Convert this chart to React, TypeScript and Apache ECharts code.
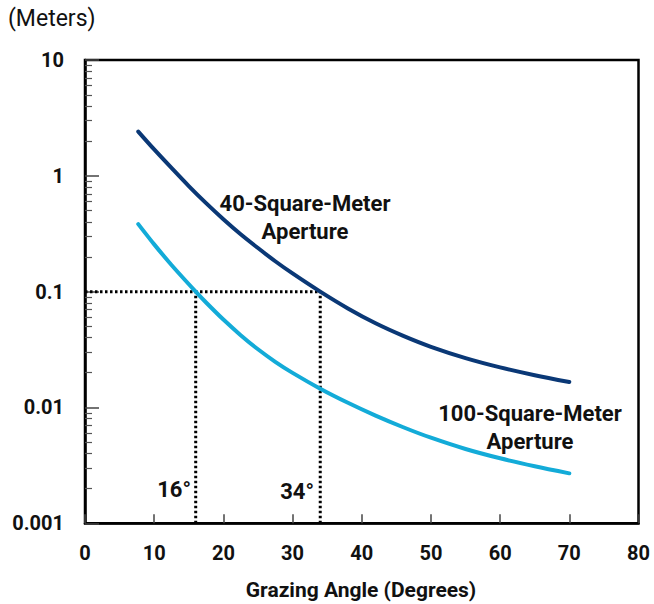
import React, { useEffect, useRef } from "react";
import * as echarts from "echarts";

// Grazing angle (degrees) vs. value (meters)
const aperture40: [number, number][] = [
  [7.7, 2.41], [10, 1.69], [12.5, 1.17], [15, 0.816], [17.5, 0.581], [20, 0.422],
  [22.5, 0.313], [25, 0.238], [27.5, 0.183], [30, 0.1436], [34, 0.1], [38, 0.0716],
  [42, 0.0533], [46, 0.0415], [50, 0.0334], [55, 0.0267], [60, 0.0222], [65, 0.019],
  [70, 0.0166],
];
const aperture100: [number, number][] = [
  [7.7, 0.383], [10, 0.256], [12.5, 0.17], [16, 0.1], [17.5, 0.0806], [20, 0.0574],
  [22.5, 0.0421], [25, 0.0318], [27.5, 0.0248], [30, 0.0199], [34, 0.01453], [38, 0.01098],
  [42, 0.00851], [46, 0.00675], [50, 0.00548], [55, 0.00438], [60, 0.00364], [65, 0.00311],
  [70, 0.0027],
];
const refValue = 0.1;
const refAngles = [16, 34];
const yTicks = [0.001, 0.01, 0.1, 1, 10];
const xMin = 0, xMax = 80, xStep = 10;
const labels40 = "40-Square-Meter\nAperture";
const labels100 = "100-Square-Meter\nAperture";
const yUnit = "(Meters)";
const xName = "Grazing Angle (Degrees)";

const FONT = "Roboto, 'Noto Sans', sans-serif";

export default function App() {
  const ref = useRef<HTMLDivElement>(null);
  useEffect(() => {
    if (!ref.current) return;
    const chart = echarts.init(ref.current, undefined, { renderer: "svg" });
    const minorTicks: number[] = [];
    for (let e = -3; e < 1; e++) {
      for (let k = 2; k <= 9; k++) minorTicks.push(Math.log10(k) + e);
    }
    const dotted = {
      color: "#000",
      width: 3,
      type: [2.5, 2.5] as number[],
    };
    const yMin = yTicks[0];
    chart.setOption({
      animation: false,
      grid: {
        left: 85, right: 15.5, top: 60, bottom: 80.7,
        show: true, borderColor: "#000", borderWidth: 2.5,
      },
      xAxis: {
        type: "value", min: xMin, max: xMax, interval: xStep,
        axisLine: { onZero: false, lineStyle: { color: "#000", width: 2.5 } },
        axisTick: { inside: true, length: 9, lineStyle: { color: "#444", width: 1.5 } },
        axisLabel: { color: "#111", fontSize: 20, fontWeight: "bold", fontFamily: FONT, margin: 20 },
        splitLine: { show: false },
      },
      yAxis: [
        {
          type: "log", min: yTicks[0], max: yTicks[yTicks.length - 1], logBase: 10,
          axisLine: { show: true, onZero: false, lineStyle: { color: "#000", width: 2.5 } },
          axisTick: { show: true, inside: true, length: 14, lineStyle: { color: "#444", width: 1.5 } },
          axisLabel: {
            color: "#111", fontSize: 20, fontWeight: "bold", fontFamily: FONT, margin: 21,
            formatter: (v: number) => String(v),
          },
          splitLine: { show: false },
        },
        {
          type: "value", min: -3, max: 1, position: "left",
          axisLine: { show: false, onZero: false },
          axisLabel: { show: false },
          splitLine: { show: false },
          axisTick: {
            show: true, inside: true, length: 7, customValues: minorTicks,
            lineStyle: { color: "#555", width: 1.2 },
          },
        },
      ],
      series: [
        {
          type: "line", data: [[xMin, refValue], [refAngles[1], refValue]],
          symbol: "none", lineStyle: dotted, silent: true, z: 1,
        },
        ...refAngles.map((a) => ({
          type: "line", data: [[a, yMin], [a, refValue]],
          symbol: "none", lineStyle: dotted, silent: true, z: 1,
        })),
        {
          type: "line", data: aperture40, smooth: 0.3, symbol: "none",
          lineStyle: { color: "#0A3876", width: 4, cap: "round" }, z: 3,
        },
        {
          type: "line", data: aperture100, smooth: 0.3, symbol: "none",
          lineStyle: { color: "#13ABD8", width: 4, cap: "round" }, z: 3,
        },
      ],
      graphic: [
        {
          type: "text", left: 8, top: 7,
          style: { text: yUnit, fontSize: 23, fontFamily: FONT, fill: "#111" },
        },
        {
          type: "text", x: 361, y: 590,
          style: {
            text: xName, fontSize: 21, fontWeight: "bold", fontFamily: FONT, fill: "#111",
            align: "center", verticalAlign: "middle",
          },
        },
        {
          type: "text", x: 305, y: 217,
          style: {
            text: labels40, fontSize: 22, fontWeight: "bold", fontFamily: FONT, fill: "#111",
            align: "center", verticalAlign: "middle", lineHeight: 28,
          },
        },
        {
          type: "text", x: 530, y: 427,
          style: {
            text: labels100, fontSize: 22, fontWeight: "bold", fontFamily: FONT, fill: "#111",
            align: "center", verticalAlign: "middle", lineHeight: 28,
          },
        },
        {
          type: "text", x: 191, y: 500,
          style: {
            text: refAngles[0] + "°", fontSize: 22, fontWeight: "bold", fontFamily: FONT, fill: "#111",
            align: "right", verticalAlign: "bottom",
          },
        },
        {
          type: "text", x: 314, y: 502,
          style: {
            text: refAngles[1] + "°", fontSize: 22, fontWeight: "bold", fontFamily: FONT, fill: "#111",
            align: "right", verticalAlign: "bottom",
          },
        },
      ],
    });
    return () => chart.dispose();
  }, []);
  return (
    <div
      ref={ref}
      style={{ position: "fixed", left: 0, top: 0, width: 654, height: 604, background: "#fff" }}
    />
  );
}
